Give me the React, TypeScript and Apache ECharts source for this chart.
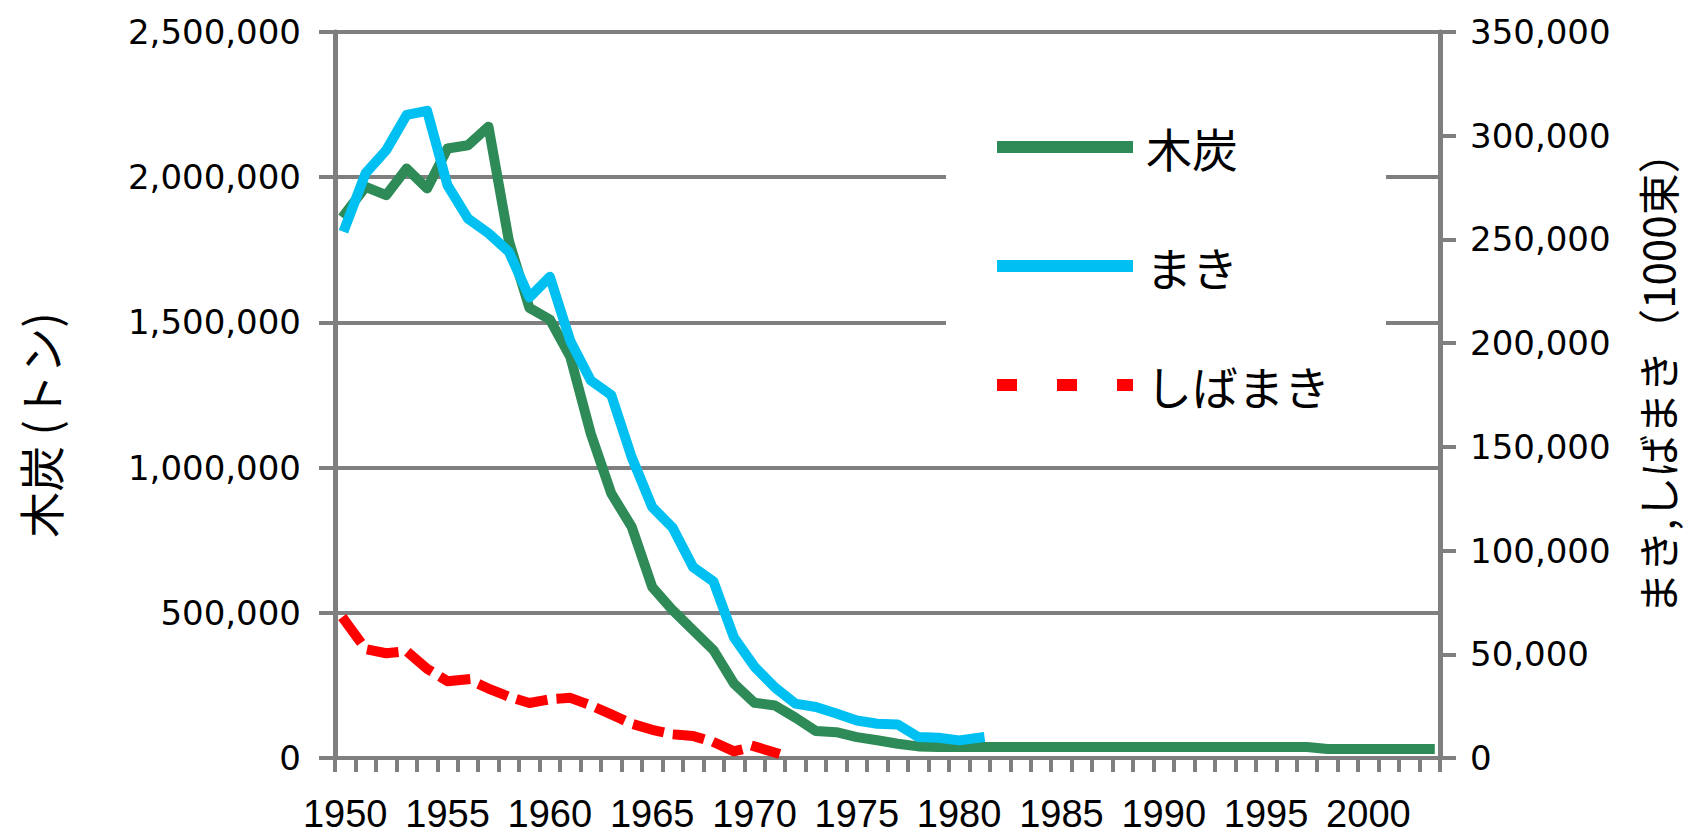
import React, { useEffect, useRef } from "react";
import * as echarts from "echarts";

const years = [
  "1950", "1951", "1952", "1953", "1954", "1955", "1956", "1957", "1958", "1959",
  "1960", "1961", "1962", "1963", "1964", "1965", "1966", "1967", "1968", "1969",
  "1970", "1971", "1972", "1973", "1974", "1975", "1976", "1977", "1978", "1979",
  "1980", "1981", "1982", "1983", "1984", "1985", "1986", "1987", "1988", "1989",
  "1990", "1991", "1992", "1993", "1994", "1995", "1996", "1997", "1998", "1999",
  "2000", "2001", "2002", "2003",
];

// 木炭 (トン) – left axis
const charcoal = [
  1875000, 1967000, 1938000, 2030000, 1961000, 2099000, 2110000, 2174000, 1780000, 1550000,
  1510000, 1381000, 1117000, 911000, 796000, 589000, 509000, 440000, 371000, 256000,
  190000, 181000, 139000, 93000, 89000, 72000, 61000, 49000, 40000, 38000,
  38000, 38000, 38000, 38000, 38000, 38000, 38000, 38000, 38000, 38000,
  38000, 38000, 38000, 38000, 38000, 38000, 38000, 38000, 31000, 31000,
  31000, 31000, 31000, 31000,
];

// まき (1000束) – right axis
const maki = [
  256000, 282000, 293000, 310000, 312000, 276000, 260000, 253000, 244000, 222000,
  232000, 201000, 182000, 175000, 145000, 121000, 111000, 92000, 85000, 58000,
  44000, 34000, 26200, 24600, 21400, 18100, 16500, 16200, 10100, 9800,
  8500, 9800, null, null, null, null, null, null, null, null,
  null, null, null, null, null, null, null, null, null, null,
  null, null, null, null,
];

// しばまき (1000束) – right axis
const shibamaki = [
  66000, 52500, 50500, 51500, 43000, 37000, 38000, 33500, 29500, 26500,
  28300, 29000, 25400, 21000, 16500, 13600, 11400, 10600, 7700, 3200,
  5600, 2600, null, null, null, null, null, null, null, null,
  null, null, null, null, null, null, null, null, null, null,
  null, null, null, null, null, null, null, null, null, null,
  null, null, null, null,
];

const seriesNames = ["木炭", "まき", "しばまき"];
const seriesColors = ["#2e8b57", "#00c0f2", "#ff0000"];
const leftTitle = "木炭 (トン)";
const rightTitle = "まき,しばまき（1000束）";

const GRAY = "#7f7f7f";
const NUM_FONT = "'DejaVu Sans', Verdana, sans-serif";
const X_FONT = "'Liberation Sans', Arial, sans-serif";
const JP_FONT = "'Noto Sans CJK JP', sans-serif";

const fmt = (v: number) => Number(v).toLocaleString("en-US");

export default function App() {
  const ref = useRef<HTMLDivElement>(null);

  useEffect(() => {
    document.body.style.margin = "0";
    const chart = echarts.init(ref.current as HTMLDivElement, null, { renderer: "svg" });

    const legendYs = [147, 266, 385];

    chart.setOption({
      animation: false,
      backgroundColor: "#ffffff",
      grid: { left: 335, right: 245, top: 32, bottom: 76, containLabel: false },
      xAxis: {
        type: "category",
        data: years,
        boundaryGap: true,
        axisLine: { show: true, lineStyle: { color: GRAY, width: 4 } },
        axisTick: { show: true, interval: 0, length: 14, lineStyle: { color: GRAY, width: 4 } },
        axisLabel: {
          interval: 4,
          margin: 37,
          fontFamily: X_FONT,
          fontSize: 38,
          lineHeight: 38,
          color: "#000",
        },
        splitLine: { show: false },
      },
      yAxis: [
        {
          type: "value",
          position: "left",
          min: 0,
          max: 2500000,
          interval: 500000,
          axisLine: { show: true, lineStyle: { color: GRAY, width: 5 } },
          axisTick: { show: true, length: 16, lineStyle: { color: GRAY, width: 4 } },
          splitLine: { show: true, lineStyle: { color: GRAY, width: 4 } },
          axisLabel: {
            margin: 34,
            fontFamily: NUM_FONT,
            fontSize: 34,
            color: "#000",
            formatter: fmt,
          },
        },
        {
          type: "value",
          position: "right",
          min: 0,
          max: 350000,
          interval: 50000,
          axisLine: { show: true, lineStyle: { color: GRAY, width: 5 } },
          axisTick: { show: true, length: 16, lineStyle: { color: GRAY, width: 4 } },
          splitLine: { show: false },
          axisLabel: {
            margin: 30,
            fontFamily: NUM_FONT,
            fontSize: 34,
            color: "#000",
            formatter: fmt,
          },
        },
      ],
      series: [
        {
          name: seriesNames[0],
          type: "line",
          yAxisIndex: 0,
          data: charcoal,
          showSymbol: false,
          symbol: "none",
          lineStyle: { color: seriesColors[0], width: 10, join: "round", cap: "square" },
          z: 3,
        },
        {
          name: seriesNames[1],
          type: "line",
          yAxisIndex: 1,
          data: maki,
          showSymbol: false,
          symbol: "none",
          lineStyle: { color: seriesColors[1], width: 10, join: "round", cap: "square" },
          z: 4,
        },
        {
          name: seriesNames[2],
          type: "line",
          yAxisIndex: 1,
          data: shibamaki,
          showSymbol: false,
          symbol: "none",
          lineStyle: { color: seriesColors[2], width: 10, type: [22, 19], cap: "square", join: "round" },
          z: 5,
        },
      ],
      graphic: [
        {
          type: "rect",
          z: 100,
          shape: { x: 946, y: 95, width: 440, height: 325 },
          style: { fill: "#ffffff" },
        },
        ...seriesNames.map((name, i) => ({
          type: "line",
          z: 101,
          shape: { x1: 997, y1: legendYs[i], x2: 1133, y2: legendYs[i] },
          style: {
            stroke: seriesColors[i],
            lineWidth: 12,
            lineDash: i === 2 ? [20, 40] : null,
          },
        })),
        ...seriesNames.map((name, i) => ({
          type: "text",
          z: 101,
          x: 1146,
          y: legendYs[i],
          style: {
            text: name,
            fontFamily: JP_FONT,
            fontSize: 46,
            fill: "#000",
            textAlign: "left",
            textVerticalAlign: "middle",
            align: "left",
            verticalAlign: "middle",
          },
        })),
        {
          type: "text",
          z: 101,
          x: 39,
          y: 425,
          rotation: Math.PI / 2,
          style: {
            text: leftTitle,
            fontFamily: JP_FONT,
            fontSize: 46,
            fill: "#000",
            textAlign: "center",
            textVerticalAlign: "middle",
            align: "center",
            verticalAlign: "middle",
          },
        },
        {
          type: "text",
          z: 101,
          x: 1656,
          y: 373,
          rotation: Math.PI / 2,
          style: {
            text: rightTitle,
            fontFamily: JP_FONT,
            fontSize: 42,
            lineHeight: 42,
            fill: "#000",
            textAlign: "center",
            textVerticalAlign: "middle",
            align: "center",
            verticalAlign: "middle",
          },
        },
      ],
    });

    return () => chart.dispose();
  }, []);

  return <div ref={ref} style={{ width: 1685, height: 834 }} />;
}
